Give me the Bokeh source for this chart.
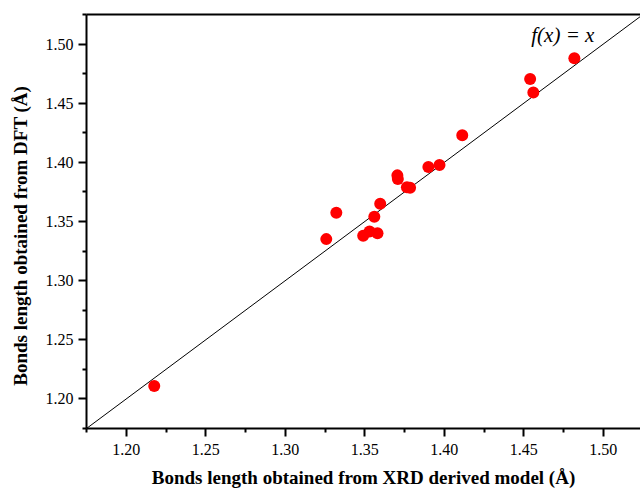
from bokeh.plotting import figure
from bokeh.models import LinearAxis, Range1d, Label, FixedTicker, NumeralTickFormatter
from bokeh.embed import file_html
from bokeh.resources import INLINE

# Data (XRD vs DFT bond lengths, Å)
xrd = [1.2176, 1.3258, 1.3321, 1.3490, 1.3530, 1.3580, 1.3560, 1.3597,
       1.3705, 1.3708, 1.3765, 1.3785, 1.3900, 1.3970, 1.4113, 1.4540,
       1.4560, 1.4818]
dft = [1.2110, 1.3351, 1.3573, 1.3380, 1.3415, 1.3400, 1.3540, 1.3650,
       1.3890, 1.3860, 1.3790, 1.3785, 1.3960, 1.3978, 1.4230, 1.4705,
       1.4590, 1.4880]
line_x = [1.175, 1.525]
line_y = [1.175, 1.525]
ticks = [1.20, 1.25, 1.30, 1.35, 1.40, 1.45, 1.50]
minor = [1.175, 1.225, 1.275, 1.325, 1.375, 1.425, 1.475, 1.525]
x_title = "Bonds length obtained from XRD derived model (Å)"
y_title = "Bonds length obtained from DFT (Å)"

FONT = "Liberation Serif"

p = figure(width=640, height=490, output_backend="svg", toolbar_location=None,
           x_range=Range1d(1.175, 1.5234), y_range=Range1d(1.175, 1.525),
           min_border_left=86, min_border_right=0, min_border_top=14,
           min_border_bottom=62)
p.outline_line_color = None
p.grid.visible = False
p.background_fill_color = "white"
p.border_fill_color = "white"

p.line(line_x, line_y, line_color="black", line_width=1)
p.scatter(xrd, dft, size=12, fill_color="#ff0000", line_color=None)

for ax in (p.xaxis[0], p.yaxis[0]):
    ax.ticker = FixedTicker(ticks=ticks, minor_ticks=minor)
    ax.formatter = NumeralTickFormatter(format="0.00")
    ax.axis_line_width = 2
    ax.major_tick_line_width = 2
    ax.minor_tick_line_width = 2
    ax.major_tick_out = 8
    ax.major_tick_in = 0
    ax.minor_tick_out = 4
    ax.minor_tick_in = 0
    ax.major_label_text_font = FONT
    ax.major_label_text_font_style = "normal"
    ax.major_label_text_font_size = "16px"
    ax.major_label_text_color = "black"
    ax.axis_label_text_font = FONT
    ax.axis_label_text_font_style = "bold"
    ax.axis_label_text_font_size = "19px"
    ax.axis_label_text_color = "black"
p.xaxis[0].axis_label = x_title
p.yaxis[0].axis_label = y_title + "\u00a0" * 6
p.xaxis[0].major_label_standoff = 7
p.yaxis[0].major_label_standoff = 5
p.xaxis[0].axis_label_standoff = 9
p.yaxis[0].axis_label_standoff = 12

top = LinearAxis(ticker=FixedTicker(ticks=[]), axis_line_width=2,
                 major_tick_out=0, minor_tick_out=0,
                 major_label_text_font_size="0px")
p.add_layout(top, "above")

p.add_layout(Label(x=1.4547, y=1.5075, text="f(x) = x", text_font=FONT,
                   text_font_style="italic", text_font_size="21px",
                   text_color="black", text_baseline="alphabetic"))

open("out.html", "w").write(file_html(p, INLINE))
